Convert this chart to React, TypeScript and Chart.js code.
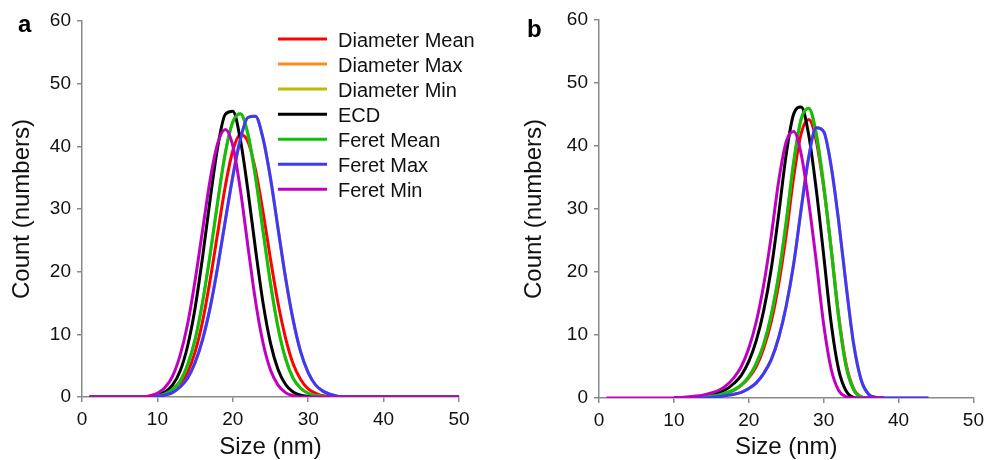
import React, { useEffect, useRef } from "react";
import { Chart, registerables } from "chart.js";

Chart.register(...registerables);
Chart.defaults.font.family = '"Liberation Sans", Arial, Helvetica, sans-serif';

const seriesNames = [
  "Diameter Mean",
  "Diameter Max",
  "Diameter Min",
  "ECD",
  "Feret Mean",
  "Feret Max",
  "Feret Min",
];
const seriesColors = ["#ff0000", "#ff8a1c", "#bcbc00", "#000000", "#10c010", "#3a3aff", "#c000c0"];

const xTicks = [0, 10, 20, 30, 40, 50];
const yTicks = [0, 10, 20, 30, 40, 50, 60];

// ---------- panel a ----------
const sizesA = [1, 5, 8, 9, 10, 11, 12, 13, 14, 15, 16, 17, 18, 19, 20, 21, 22, 23, 24, 25, 26, 27, 28, 29, 30, 31, 32, 33, 34, 35, 36, 40, 45, 50];
const aDiameterMean = [0, 0, 0, 0, 0.1, 0.4, 0.9, 1.9, 3.9, 7.2, 12.1, 18.7, 26.2, 33.6, 39.3, 41.9, 40.8, 36.3, 29.6, 22.0, 15.0, 9.4, 5.3, 2.8, 1.3, 0.6, 0.2, 0.1, 0, 0, 0, 0, 0, 0];
const aDiameterMax = [0, 0, 0, 0, 0.1, 0.3, 0.7, 1.6, 3.0, 5.5, 9.2, 14.3, 20.8, 28.1, 35.2, 41.1, 44.6, 44.8, 41.3, 34.9, 26.9, 19.0, 12.3, 7.2, 3.9, 1.9, 0.9, 0.4, 0.1, 0, 0, 0, 0, 0];
const aDiameterMin = [0, 0, 0, 0.1, 0.2, 0.5, 1.2, 2.5, 5.1, 9.2, 15.2, 22.8, 31.2, 38.9, 43.9, 45.2, 42.0, 35.2, 26.6, 18.1, 11.1, 6.1, 3.0, 1.4, 0.6, 0.2, 0.1, 0, 0, 0, 0, 0, 0, 0];
const aECD = [0, 0, 0, 0.1, 0.3, 0.8, 1.9, 4.1, 8.1, 14.2, 22.4, 31.6, 39.9, 45.1, 45.6, 41.1, 33.0, 23.7, 15.1, 8.6, 4.4, 2.0, 0.8, 0.3, 0.1, 0, 0, 0, 0, 0, 0, 0, 0, 0];
const aFeretMean = [0, 0, 0, 0.1, 0.2, 0.5, 1.2, 2.5, 5.1, 9.2, 15.2, 22.8, 31.2, 38.9, 43.9, 45.2, 42.0, 35.2, 26.6, 18.1, 11.1, 6.1, 3.0, 1.4, 0.6, 0.2, 0.1, 0, 0, 0, 0, 0, 0, 0];
const aFeretMax = [0, 0, 0, 0, 0.1, 0.3, 0.7, 1.6, 3.0, 5.5, 9.2, 14.3, 20.8, 28.1, 35.2, 41.1, 44.6, 44.8, 41.3, 34.9, 26.9, 19.0, 12.3, 7.2, 3.9, 1.9, 0.9, 0.4, 0.1, 0, 0, 0, 0, 0];
const aFeretMin = [0, 0, 0, 0.2, 0.6, 1.5, 3.3, 6.6, 11.6, 18.6, 26.7, 34.7, 40.5, 42.7, 40.1, 33.1, 24.1, 15.4, 8.7, 4.3, 1.9, 0.7, 0.2, 0, 0, 0, 0, 0, 0, 0, 0, 0, 0, 0];

// ---------- panel b ----------
const sizesB = [1, 5, 10, 11, 12, 13, 14, 15, 16, 17, 18, 19, 20, 21, 22, 23, 24, 25, 26, 27, 28, 29, 30, 31, 32, 33, 34, 35, 36, 37, 38, 44];
const bDiameterMean = [null, null, 0, 0, 0, 0.1, 0.2, 0.3, 0.5, 0.8, 1.2, 2.0, 3.2, 5.0, 7.9, 12.1, 18.1, 25.9, 35.1, 42.0, 44.2, 40.9, 33.4, 23.8, 13.2, 5.4, 1.5, 0.2, 0, 0, 0, null];
const bDiameterMax = [null, null, 0, 0, 0, 0, 0, 0.1, 0.2, 0.4, 0.6, 0.9, 1.5, 2.4, 3.9, 6.1, 9.6, 14.6, 21.3, 30.0, 38.2, 42.9, 42.3, 36.8, 28.1, 17.9, 8.6, 2.9, 0.6, 0.1, 0, 0];
const bDiameterMin = [null, null, 0, 0, 0, 0.1, 0.2, 0.3, 0.5, 0.8, 1.3, 2.1, 3.4, 5.5, 8.6, 13.2, 19.6, 28.0, 37.5, 44.3, 46.0, 42.0, 33.8, 23.6, 12.8, 5.0, 1.3, 0.2, 0, 0, 0, null];
const bECD = [null, null, 0, 0, 0.1, 0.2, 0.3, 0.6, 0.9, 1.4, 2.3, 3.6, 5.8, 9.1, 13.9, 20.5, 29.2, 38.7, 45.1, 46.2, 41.8, 33.2, 22.7, 11.9, 4.5, 1.1, 0.1, 0, 0, 0, 0, null];
const bFeretMean = [null, null, 0, 0, 0, 0.1, 0.2, 0.3, 0.5, 0.8, 1.3, 2.1, 3.4, 5.5, 8.6, 13.2, 19.6, 28.0, 37.5, 44.3, 46.0, 42.0, 33.8, 23.6, 12.8, 5.0, 1.3, 0.2, 0, 0, 0, null];
const bFeretMax = [null, null, 0, 0, 0, 0, 0, 0.1, 0.2, 0.4, 0.6, 0.9, 1.5, 2.4, 3.9, 6.1, 9.6, 14.6, 21.3, 30.0, 38.2, 42.9, 42.3, 36.8, 28.1, 17.9, 8.6, 2.9, 0.6, 0.1, 0, 0];
const bFeretMin = [0, 0, 0, 0.1, 0.2, 0.3, 0.5, 0.8, 1.2, 2.0, 3.2, 5.0, 7.9, 12.1, 18.0, 25.7, 34.5, 40.7, 42.3, 38.7, 31.1, 21.8, 11.7, 4.6, 1.2, 0.2, 0, 0, 0, 0, 0, null];

const seriesA = [aDiameterMean, aDiameterMax, aDiameterMin, aECD, aFeretMean, aFeretMax, aFeretMin];
const seriesB = [bDiameterMean, bDiameterMax, bDiameterMin, bECD, bFeretMean, bFeretMax, bFeretMin];

const FONT = '"Liberation Sans", Arial, Helvetica, sans-serif';
const TEXT = "#111111";

const overlayPlugin = {
  id: "overlay",
  afterDatasetsDraw(chart: any, _args: any, opts: any) {
    const ctx = chart.ctx;
    ctx.save();
    if (opts.legend) {
      seriesNames.forEach((name, i) => {
        const y = opts.legendTop + i * opts.legendGap;
        ctx.strokeStyle = seriesColors[i];
        ctx.lineWidth = 3;
        ctx.beginPath();
        ctx.moveTo(opts.lineX0, y);
        ctx.lineTo(opts.lineX1, y);
        ctx.stroke();
        ctx.fillStyle = TEXT;
        ctx.font = `20px ${FONT}`;
        ctx.textBaseline = "alphabetic";
        ctx.textAlign = "left";
        ctx.fillText(name, opts.textX, y + 7.7);
      });
    }
    ctx.fillStyle = "#000";
    ctx.font = `bold 24px ${FONT}`;
    ctx.textBaseline = "alphabetic";
    ctx.textAlign = "left";
    ctx.fillText(opts.letter, opts.letterX, opts.letterY);
    ctx.restore();
  },
};

type PanelProps = {
  sizes: number[];
  series: (number | null)[][];
  left: number;
  padTop: number;
  padRight: number;
  yWidth: number;
  xHeight: number;
  yTitlePad: number;
  overlay: any;
};

function Panel(props: PanelProps) {
  const ref = useRef<HTMLCanvasElement>(null);
  useEffect(() => {
    const { sizes, series, padTop, padRight, yWidth, xHeight, yTitlePad, overlay } = props;
    const datasets = series.map((vals, i) => ({
      label: seriesNames[i],
      data: sizes.map((x, j) => ({ x, y: vals[j] })),
      borderColor: seriesColors[i],
      backgroundColor: seriesColors[i],
      borderWidth: 3,
      pointRadius: 0,
      fill: false,
      tension: 0.4,
      cubicInterpolationMode: "monotone" as const,
      spanGaps: false,
      order: seriesNames.length - i,
    }));
    const gridOpts = {
      drawOnChartArea: false,
      drawTicks: true,
      tickLength: 5,
      color: "#8a8a8a",
      lineWidth: 1.5,
    };
    const borderOpts = { color: "#8a8a8a", width: 1.5 };
    const chart = new Chart(ref.current as HTMLCanvasElement, {
      type: "line",
      data: { datasets: datasets as any },
      plugins: [overlayPlugin as any],
      options: {
        responsive: false,
        maintainAspectRatio: false,
        animation: false,
        events: [],
        layout: { padding: { top: padTop, right: padRight, bottom: 0, left: 0 } },
        plugins: {
          legend: { display: false },
          tooltip: { enabled: false },
          overlay,
        } as any,
        scales: {
          x: {
            type: "linear",
            min: xTicks[0],
            max: xTicks[xTicks.length - 1],
            afterBuildTicks: (s: any) => {
              s.ticks = xTicks.map((v) => ({ value: v }));
            },
            ticks: { font: { size: 19 }, color: TEXT, padding: 6, maxRotation: 0 },
            grid: gridOpts,
            border: borderOpts,
            title: {
              display: true,
              text: "Size (nm)",
              font: { size: 24 },
              color: TEXT,
              padding: { top: 0, bottom: -2 },
            },
            afterFit: (s: any) => {
              s.height = xHeight;
            },
          },
          y: {
            type: "linear",
            min: yTicks[0],
            max: yTicks[yTicks.length - 1],
            afterBuildTicks: (s: any) => {
              s.ticks = yTicks.map((v) => ({ value: v }));
            },
            ticks: { font: { size: 19 }, color: TEXT, padding: 6 },
            grid: gridOpts,
            border: borderOpts,
            title: {
              display: true,
              text: "Count (numbers)",
              font: { size: 24 },
              color: TEXT,
              padding: { top: yTitlePad, bottom: 0 },
            },
            afterFit: (s: any) => {
              s.width = yWidth;
            },
          },
        },
      } as any,
    });
    return () => chart.destroy();
  }, []);
  return (
    <canvas
      ref={ref}
      width={495}
      height={460}
      style={{ position: "absolute", left: props.left, top: 0, width: 495, height: 460 }}
    />
  );
}

export default function App() {
  return (
    <div style={{ position: "absolute", left: 0, top: 0, width: 990, height: 460, background: "#fff", overflow: "hidden" }}>
      <Panel
        sizes={sizesA}
        series={seriesA}
        left={0}
        padTop={21}
        padRight={36}
        yWidth={82}
        xHeight={63}
        yTitlePad={8}
        overlay={{
          legend: true,
          legendTop: 39,
          legendGap: 25.05,
          lineX0: 278,
          lineX1: 327,
          textX: 338,
          letter: "a",
          letterX: 18,
          letterY: 32,
        }}
      />
      <Panel
        sizes={sizesB}
        series={seriesB}
        left={495}
        padTop={20}
        padRight={13}
        yWidth={104}
        xHeight={62}
        yTitlePad={25}
        overlay={{ legend: false, letter: "b", letterX: 32, letterY: 37 }}
      />
    </div>
  );
}
